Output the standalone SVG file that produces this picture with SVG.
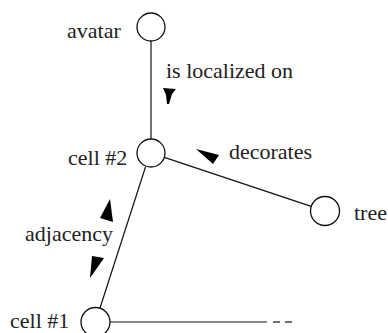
<svg xmlns="http://www.w3.org/2000/svg" width="388" height="333" viewBox="0 0 388 333">
  <style>
    .node { fill: #fff; stroke: #111; stroke-width: 1.3; }
    .edge { stroke: #111; stroke-width: 1.2; fill: none; }
    .lbl { font-family: "Liberation Serif", "Times New Roman", serif; font-size: 22px; fill: #222; }
    .dir { fill: #000; stroke: none; }
  </style>
  <rect width="388" height="333" fill="#fff"/>

  <!-- connectors -->
  <g id="connectors">
    <line class="edge" x1="151" y1="41" x2="151" y2="139"/>
    <line class="edge" x1="164.3" y1="157.4" x2="311.2" y2="206.4"/>
    <line class="edge" x1="145.5" y1="167" x2="100" y2="308"/>
    <line class="edge" x1="110" y1="322" x2="267" y2="322"/>
    <line class="edge" x1="273" y1="322" x2="280" y2="322"/>
    <line class="edge" x1="285" y1="322" x2="292" y2="322"/>

    <!-- relation labels and direction marks -->
    <text class="lbl" x="166" y="78">is localized on</text>
    <polygon class="dir" points="163,88 176,89 172,94 169,104 167,104 166,95"/>

    <text class="lbl" x="229" y="159">decorates</text>
    <polygon class="dir" points="196,149 219,155 213,164"/>

    <text class="lbl" x="25" y="241">adjacency</text>
    <polygon class="dir" points="110,199 113,222 100,218"/>
    <polygon class="dir" points="92,256 104,258 90,278"/>
  </g>

  <g id="avatar">
    <circle class="node" cx="151" cy="27" r="14"/>
    <text class="lbl" x="67" y="38">avatar</text>
  </g>

  <g id="cell2">
    <circle class="node" cx="151" cy="153" r="14"/>
    <text class="lbl" x="68" y="165">cell #2</text>
  </g>

  <g id="tree">
    <circle class="node" cx="325" cy="211" r="14.5"/>
    <text class="lbl" x="354" y="220">tree</text>
  </g>

  <g id="cell1">
    <circle class="node" cx="95.5" cy="322" r="14.5"/>
    <text class="lbl" x="10" y="328">cell #1</text>
  </g>
</svg>
